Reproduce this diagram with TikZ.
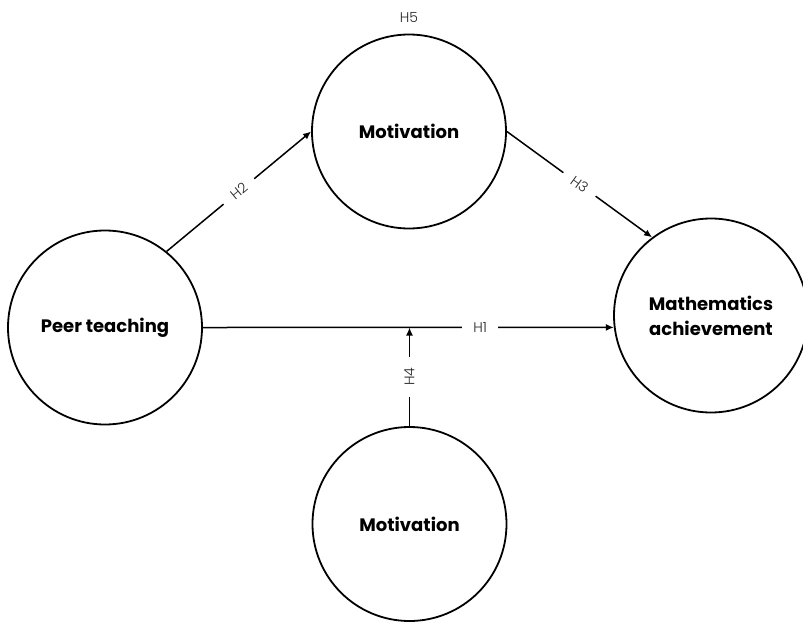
\documentclass[tikz,border=0pt]{standalone}
\usepackage{fontspec}
\setmainfont{Poppins}
\newfontfamily\lightfont{Poppins Light}
\usetikzlibrary{arrows.meta}
\begin{document}
\begin{tikzpicture}[x=1pt,y=-1pt,
  circ/.style={circle,draw,line width=1.8pt,minimum size=194pt,inner sep=0pt,
    font=\bfseries\fontsize{18}{25}\selectfont,align=center},
  conn/.style={line width=1.5pt,-{Latex[length=8pt,width=7pt]}},
  hfont/.style={font=\lightfont\fontsize{14}{16}\selectfont,text=black!85},
  hlab/.style={hfont,fill=white,inner xsep=11pt,inner ysep=2pt}]
\useasboundingbox (0,0) rectangle (803,621);
\node[circ] (peer) at (105,327.5) {Peer teaching};
\node[circ] (mot) at (409,131.5) {Motivation};
\node[circ] (math) at (711,315.5) {Mathematics\\achievement};
\node[circ] (mod) at (409.5,524) {Motivation};
\node[hfont] (h5) at (409,17) {H5};
\draw[conn] (peer.51) -- node[hlab,sloped] {H2} (mot.west);
\draw[conn] (mot.east) -- node[hlab,sloped] {H3} (math.127);
\draw[conn] (peer.east) -- node[hlab,pos=0.675] {H1} (math.187);
\coordinate (j) at (mod.north |- peer.east);
\draw[conn] (mod.north) -- node[hlab,rotate=90] {H4} (j);
\end{tikzpicture}
\end{document}
